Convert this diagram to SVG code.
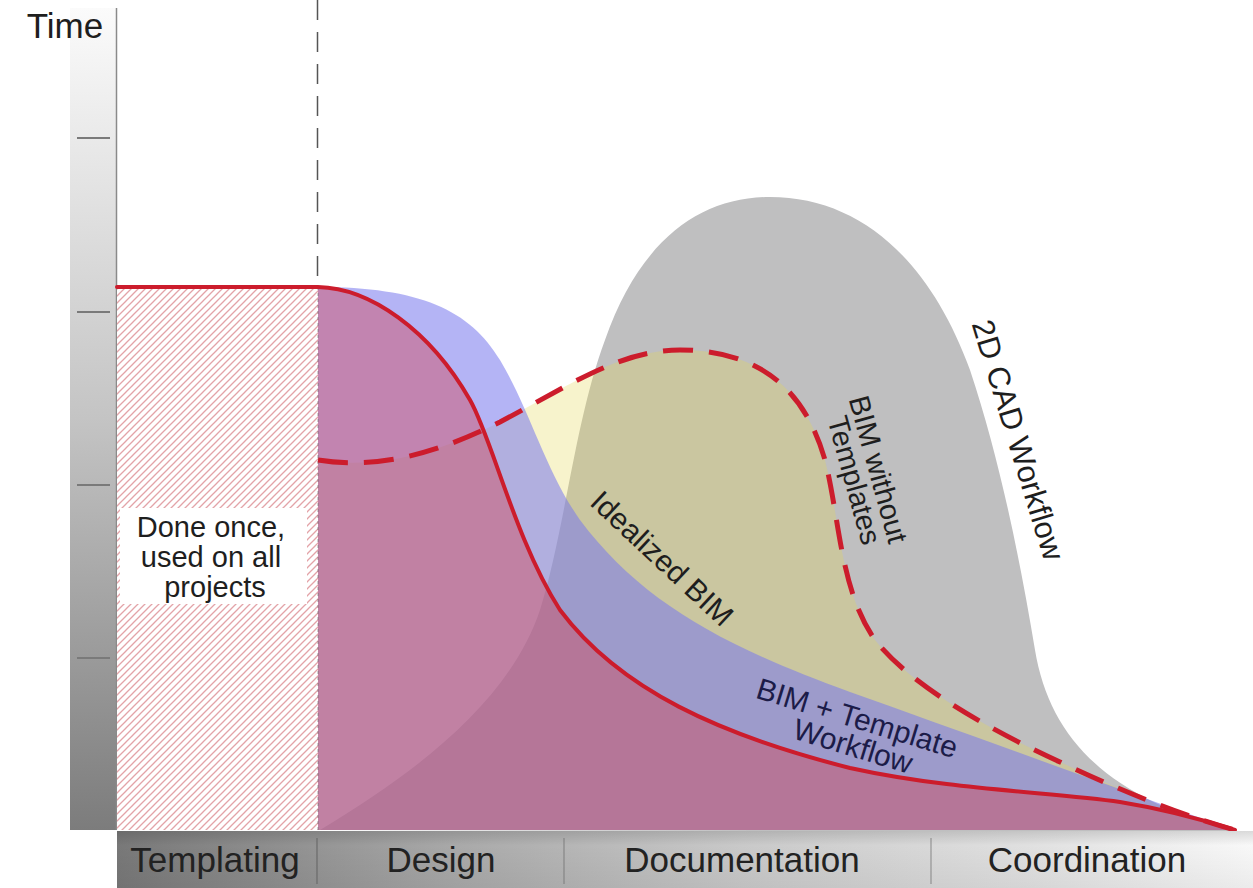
<svg xmlns="http://www.w3.org/2000/svg" width="1253" height="888" viewBox="0 0 1253 888">
  <style>
    .lbl { font-family: "Liberation Sans", Arial, Helvetica, sans-serif; fill: #1e1e1e; }
    .phase { font-size: 35px; text-anchor: middle; fill: #222; }
    .curve { font-size: 29px; text-anchor: middle; }
    .tick { stroke: #7a7a7a; stroke-width: 2; }
    .divider { stroke: #6a6a6a; stroke-width: 1.2; }
    .red { fill: none; stroke: #cc1c2c; stroke-width: 4; stroke-linecap: round; stroke-linejoin: round; }
    .reddash { fill: none; stroke: #cc1c2c; stroke-width: 5; stroke-dasharray: 30 16; }
  </style>
  <defs>
    <linearGradient id="axisGrad" x1="0" y1="0" x2="0" y2="1">
      <stop offset="0" stop-color="#fbfbfb"/>
      <stop offset="0.5" stop-color="#c4c4c4"/>
      <stop offset="1" stop-color="#7c7c7c"/>
    </linearGradient>
    <linearGradient id="barGrad" x1="117" y1="0" x2="1253" y2="0" gradientUnits="userSpaceOnUse">
      <stop offset="0" stop-color="#787878"/>
      <stop offset="0.3" stop-color="#a9a9a9"/>
      <stop offset="0.55" stop-color="#c9c9c9"/>
      <stop offset="0.8" stop-color="#e0e0e0"/>
      <stop offset="1" stop-color="#f8f8f8"/>
    </linearGradient>
    <linearGradient id="barShade" x1="0" y1="0" x2="0" y2="1">
      <stop offset="0" stop-color="#000" stop-opacity="0.12"/>
      <stop offset="0.25" stop-color="#000" stop-opacity="0"/>
      <stop offset="1" stop-color="#000" stop-opacity="0.05"/>
    </linearGradient>
    <pattern id="hatch" patternUnits="userSpaceOnUse" width="7" height="7">
      <rect width="7" height="7" fill="#ffffff"/>
      <path d="M-1,1 L1,-1 M0,7 L7,0 M6,8 L8,6" stroke="#e3a3a8" stroke-width="1.3"/>
    </pattern>
  </defs>

  <rect width="1253" height="888" fill="#ffffff"/>

  <!-- Y axis -->
  <g id="axis">
    <rect x="70" y="8" width="47" height="822" fill="url(#axisGrad)"/>
    <line x1="116.5" y1="8" x2="116.5" y2="830" stroke="#8a8a8a" stroke-width="1.5"/>
    <line class="tick" x1="77" y1="138" x2="110" y2="138"/>
    <line class="tick" x1="77" y1="312" x2="110" y2="312"/>
    <line class="tick" x1="77" y1="485" x2="110" y2="485"/>
    <line class="tick" x1="77" y1="658" x2="110" y2="658"/>
    <text class="lbl" x="65" y="38" font-size="35" text-anchor="middle" fill="#333">Time</text>
  </g>

  <!-- Templating hatched area -->
  <g id="templating">
    <rect x="117" y="287" width="201" height="543" fill="url(#hatch)"/>
    <rect x="120" y="508" width="187" height="96" fill="#ffffff"/>
    <text class="lbl" font-size="29" text-anchor="middle" fill="#2a2a2a">
      <tspan x="215" y="537">Done once,</tspan>
      <tspan x="215" y="567">used on all</tspan>
      <tspan x="215" y="597">projects</tspan>
    </text>
  </g>

  <!-- 2D CAD workflow area -->
  <g id="cad2d">
    <path d="M320,830 C420,770 510,700 540,610 C565,530 575,420 605,340 C640,240 700,197 770,197 C860,197 930,260 970,370 C1000,460 1020,560 1035,650 C1050,740 1110,800 1240,832 Z" fill="#bfbfc0"/>
  </g>

  <!-- BIM without Templates area -->
  <g id="bim-no-template">
    <path d="M318,460 C380,470 440,452 500,422 C570,385 620,350 680,350 C760,350 805,390 825,460 C840,520 840,590 875,640 C910,685 990,730 1060,762 C1130,795 1190,818 1235,830 L318,830 Z" fill="rgb(228,215,85)" fill-opacity="0.3"/>
  </g>

  <!-- Idealized BIM area -->
  <g id="idealized-bim">
    <path d="M318,287 C420,287 470,310 500,360 C530,410 545,470 580,520 C640,600 720,645 850,692 C980,738 1120,790 1235,830 L318,830 Z" fill="rgb(121,121,237)" fill-opacity="0.56"/>
  </g>

  <!-- BIM + Template area -->
  <g id="bim-template">
    <path d="M318,287 C370,288 430,330 470,400 C492,438 515,540 560,610 C620,690 720,735 850,768 C950,790 1050,792 1120,802 C1170,810 1210,822 1235,830 L318,830 Z" fill="rgb(214,66,80)" fill-opacity="0.42"/>
  </g>

  <!-- curves / connectors -->
  <g id="connectors">
    <line x1="317.5" y1="0" x2="317.5" y2="287" stroke="#555" stroke-width="1.5" stroke-dasharray="20 12"/>
    <line x1="318" y1="287" x2="318" y2="830" stroke="#666" stroke-width="1" stroke-dasharray="3 3" opacity="0.6"/>
    <path class="reddash" d="M318,460 C380,470 440,452 500,422 C570,385 620,350 680,350 C760,350 805,390 825,460 C840,520 840,590 875,640 C910,685 990,730 1060,762 C1130,795 1190,818 1235,830"/>
    <path class="red" d="M117,287 L318,287 C370,288 430,330 470,400 C492,438 515,540 560,610 C620,690 720,735 850,768 C950,790 1050,792 1120,802 C1170,810 1210,822 1235,830"/>
  </g>

  <!-- curve labels -->
  <g id="labels">
    <text class="lbl curve" font-size="30" style="font-size:30px" transform="translate(655,566) rotate(43)">Idealized BIM</text>
    <text class="lbl curve" style="fill:#1c1c48;font-size:30px" transform="translate(857,733) rotate(17)">
      <tspan x="0" y="-4">BIM + Template</tspan>
      <tspan x="0" y="24">Workflow</tspan>
    </text>
    <text class="lbl curve" transform="translate(866,477) rotate(74.5)">
      <tspan x="0" y="-4">BIM without</tspan>
      <tspan x="0" y="22">Templates</tspan>
    </text>
    <text class="lbl curve" style="font-size:31px" transform="translate(1008,443) rotate(73)">2D CAD Workflow</text>
  </g>

  <!-- Phase bar -->
  <g id="phases">
    <rect x="117" y="831" width="1136" height="57" fill="url(#barGrad)"/>
    <rect x="117" y="831" width="1136" height="57" fill="url(#barShade)"/>
    <line class="divider" x1="317" y1="838" x2="317" y2="884"/>
    <line class="divider" x1="564" y1="838" x2="564" y2="884" opacity="0.6"/>
    <line class="divider" x1="931" y1="838" x2="931" y2="884" opacity="0.6"/>
    <text class="lbl phase" x="215" y="872">Templating</text>
    <text class="lbl phase" x="441" y="872">Design</text>
    <text class="lbl phase" x="742" y="872">Documentation</text>
    <text class="lbl phase" x="1087" y="872">Coordination</text>
  </g>
</svg>
